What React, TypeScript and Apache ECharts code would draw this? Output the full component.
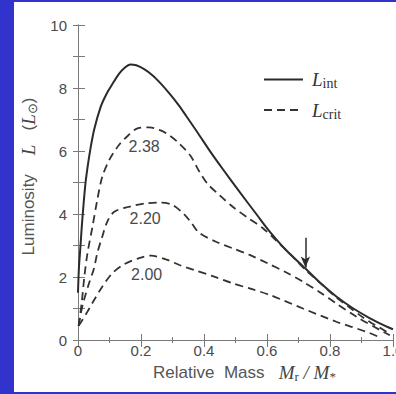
import React, { useEffect, useRef } from "react";
import * as echarts from "echarts";

// ---- data ----
const intX = [0, 0.003, 0.008, 0.012, 0.018, 0.024, 0.032, 0.04, 0.051, 0.072, 0.09, 0.104, 0.13, 0.15, 0.166, 0.185, 0.21, 0.237, 0.26, 0.29, 0.32, 0.343, 0.38, 0.42, 0.46, 0.513, 0.566, 0.608, 0.661, 0.722, 0.767, 0.82, 0.874, 0.927, 0.96, 0.99, 1.0];
const intY = [1.5, 2.3, 3.0, 3.6, 4.35, 5.0, 5.6, 6.1, 6.67, 7.4, 7.8, 8.04, 8.45, 8.66, 8.75, 8.72, 8.6, 8.4, 8.17, 7.83, 7.45, 7.12, 6.58, 5.98, 5.42, 4.7, 4.0, 3.45, 2.85, 2.27, 1.83, 1.38, 1.0, 0.69, 0.52, 0.38, 0.34];

const c238X = [0.002, 0.012, 0.02, 0.03, 0.046, 0.061, 0.077, 0.099, 0.13, 0.16, 0.189, 0.226, 0.26, 0.29, 0.32, 0.357, 0.385, 0.412, 0.449, 0.491, 0.539, 0.587, 0.63, 0.68, 0.72, 0.77, 0.82, 0.86, 0.9, 0.93, 0.96, 0.99];
const c238Y = [0.45, 1.2, 2.0, 2.75, 3.6, 4.44, 5.18, 5.71, 6.19, 6.5, 6.72, 6.75, 6.66, 6.5, 6.25, 5.85, 5.35, 4.95, 4.6, 4.23, 3.88, 3.55, 3.15, 2.66, 2.25, 1.8, 1.35, 1.05, 0.75, 0.55, 0.38, 0.2];

const c220X = [0.002, 0.009, 0.019, 0.035, 0.051, 0.061, 0.077, 0.093, 0.115, 0.162, 0.216, 0.263, 0.3, 0.338, 0.36, 0.385, 0.438, 0.491, 0.545, 0.603, 0.66, 0.714, 0.77, 0.82, 0.884, 0.958, 0.99];
const c220Y = [0.45, 0.85, 1.27, 1.8, 2.28, 2.75, 3.28, 3.76, 4.07, 4.23, 4.34, 4.36, 4.29, 3.98, 3.72, 3.4, 3.12, 2.91, 2.7, 2.43, 2.15, 1.85, 1.5, 1.16, 0.74, 0.32, 0.15];

const c200X = [0.002, 0.015, 0.03, 0.046, 0.077, 0.109, 0.146, 0.194, 0.232, 0.279, 0.322, 0.369, 0.43, 0.491, 0.55, 0.609, 0.714, 0.82, 0.916, 0.95];
const c200Y = [0.45, 0.65, 0.9, 1.18, 1.69, 2.12, 2.4, 2.6, 2.68, 2.56, 2.38, 2.22, 2.02, 1.8, 1.62, 1.43, 1.0, 0.58, 0.26, 0.12];

const curveLabels = ["2.38", "2.20", "2.00"];
const labelX = [0.21, 0.213, 0.218];
const labelY = [6.14, 3.85, 2.08];

const arrowX = 0.722;
const arrowY = [3.25, 2.3];

const xMin = 0, xMax = 1, xStep = 0.2;
const yMin = 0, yMax = 10, yStep = 1;

const SANS = "'Liberation Sans', Arial, sans-serif";
const SERIF = "'Liberation Serif', 'Times New Roman', serif";
const INK = "#2b2b2b";
const AXIS = "#7a7a7a";
const TXT = "#4a4a4a";

const zip = (xs: number[], ys: number[]) => xs.map((x, i) => [x, ys[i]]);

export default function App() {
  const ref = useRef<HTMLDivElement>(null);
  useEffect(() => {
    if (!ref.current) return;
    const chart = echarts.init(ref.current, undefined, { renderer: "svg" });

    const dashedSeries = [c238X, c220X, c200X].map((xs, i) => {
      const ys = [c238Y, c220Y, c200Y][i];
      return {
        name: "L_crit",
        type: "line",
        data: zip(xs, ys),
        symbol: "none",
        smooth: 0.3,
        lineStyle: { color: "#333", width: 1.8, type: [8, 5] },
        itemStyle: { color: "#333" },
        markPoint: {
          symbol: "circle",
          symbolSize: 0,
          silent: true,
          label: {
            show: true,
            position: "inside",
            formatter: "{c}",
            color: TXT,
            fontSize: 16,
            fontFamily: SANS,
          },
          data: [{ coord: [labelX[i], labelY[i]], value: curveLabels[i] }],
        },
      };
    });

    const richBase = {
      a: { fontFamily: SANS, fontSize: 17, color: "#555", lineHeight: 22 },
      i: { fontFamily: SERIF, fontStyle: "italic", fontSize: 19, color: "#444", lineHeight: 22 },
      s: { fontFamily: SERIF, fontSize: 13, color: "#444", lineHeight: 14, verticalAlign: "bottom" },
    };

    chart.setOption({
      animation: false,
      backgroundColor: "#ffffff",
      grid: { left: 64, right: 3, top: 23, bottom: 52, containLabel: false, outerBoundsMode: "none" },
      legend: {
        data: ["L_int", "L_crit"],
        orient: "vertical",
        left: 244,
        top: 63,
        itemWidth: 39,
        itemHeight: 14,
        itemGap: 10,
        selectedMode: false,
        itemStyle: { color: "rgba(0,0,0,0)", borderWidth: 0, borderColor: "rgba(0,0,0,0)" },
        formatter: (n: string) => (n === "L_int" ? "{i|L}{s|int}" : "{i|L}{s|crit}"),
        textStyle: {
          padding: [0, 0, 0, 4],
          rich: {
            i: { fontFamily: SERIF, fontStyle: "italic", fontSize: 19, color: "#333", lineHeight: 22 },
            s: { fontFamily: SERIF, fontSize: 14, color: "#333", lineHeight: 15, verticalAlign: "bottom" },
          },
        },
      },
      xAxis: [
        {
          type: "value",
          min: xMin,
          max: xMax,
          interval: xStep,
          position: "bottom",
          axisLine: { show: true, lineStyle: { color: AXIS, width: 1 } },
          axisTick: { show: true, inside: true, length: 6, lineStyle: { color: AXIS } },
          minorTick: { show: true, splitNumber: 2, length: 3, lineStyle: { color: AXIS } },
          splitLine: { show: false },
          axisLabel: {
            margin: 3,
            color: TXT,
            fontSize: 15,
            fontFamily: SANS,
            formatter: (v: number) => (v === 0 ? "0" : v.toFixed(1)),
          },
          name: "{a|Relative  Mass}{a|   }{i|M}{s|r}{i| / M}{s|*}",
          nameLocation: "middle",
          nameGap: 21,
          nameTextStyle: { fontSize: 17, fontFamily: SANS, color: "#555", padding: [0, 0, 0, 18], rich: richBase },
        },
        {
          type: "value",
          min: xMin,
          max: xMax,
          interval: xStep,
          position: "top",
          axisLine: { show: true, lineStyle: { color: AXIS, width: 1 } },
          axisTick: { show: true, inside: true, length: 7, lineStyle: { color: AXIS } },
          minorTick: { show: true, splitNumber: 2, length: 3, lineStyle: { color: AXIS } },
          splitLine: { show: false },
          axisLabel: { show: false },
        },
      ],
      yAxis: [
        {
          type: "value",
          min: yMin,
          max: yMax,
          interval: yStep,
          position: "left",
          axisLine: { show: true, lineStyle: { color: AXIS, width: 1 } },
          axisTick: { show: true, inside: true, length: 7, lineStyle: { color: AXIS } },
          splitLine: { show: false },
          axisLabel: {
            margin: 11,
            color: TXT,
            fontSize: 15,
            fontFamily: SANS,
            formatter: (v: number) => (v % 2 === 0 ? String(v) : ""),
          },
          name: "{a|Luminosity}{a|    }{i|L}{a|   (}{i|L}{s|⊙}{a|)}",
          nameLocation: "middle",
          nameGap: 25,
          nameTextStyle: { fontSize: 17, fontFamily: SANS, color: "#555", padding: [0, 0, 0, 12], rich: richBase },
        },
        {
          type: "value",
          min: yMin,
          max: yMax,
          interval: yStep,
          position: "right",
          axisLine: { show: true, lineStyle: { color: AXIS, width: 1 } },
          axisTick: { show: true, inside: true, length: 5, lineStyle: { color: AXIS } },
          splitLine: { show: false },
          axisLabel: { show: false },
        },
      ],
      series: [
        {
          name: "L_int",
          type: "line",
          data: zip(intX, intY),
          symbol: "none",
          smooth: 0.3,
          lineStyle: { color: INK, width: 2 },
          itemStyle: { color: INK },
          markLine: {
            silent: true,
            symbol: ["none", "arrow"],
            symbolSize: [7, 11],
            label: { show: false },
            lineStyle: { color: INK, width: 1.5, type: "solid" },
            data: [[{ coord: [arrowX, arrowY[0]] }, { coord: [arrowX, arrowY[1]] }]],
          },
        },
        ...dashedSeries,
      ],
    } as any);
    return () => chart.dispose();
  }, []);

  return (
    <div style={{ position: "absolute", left: 0, top: 0, width: 396, height: 394, background: "#3232cc", overflow: "hidden" }}>
      <div ref={ref} style={{ position: "absolute", left: 14, top: 2, width: 382, height: 390, background: "#fff" }} />
    </div>
  );
}
